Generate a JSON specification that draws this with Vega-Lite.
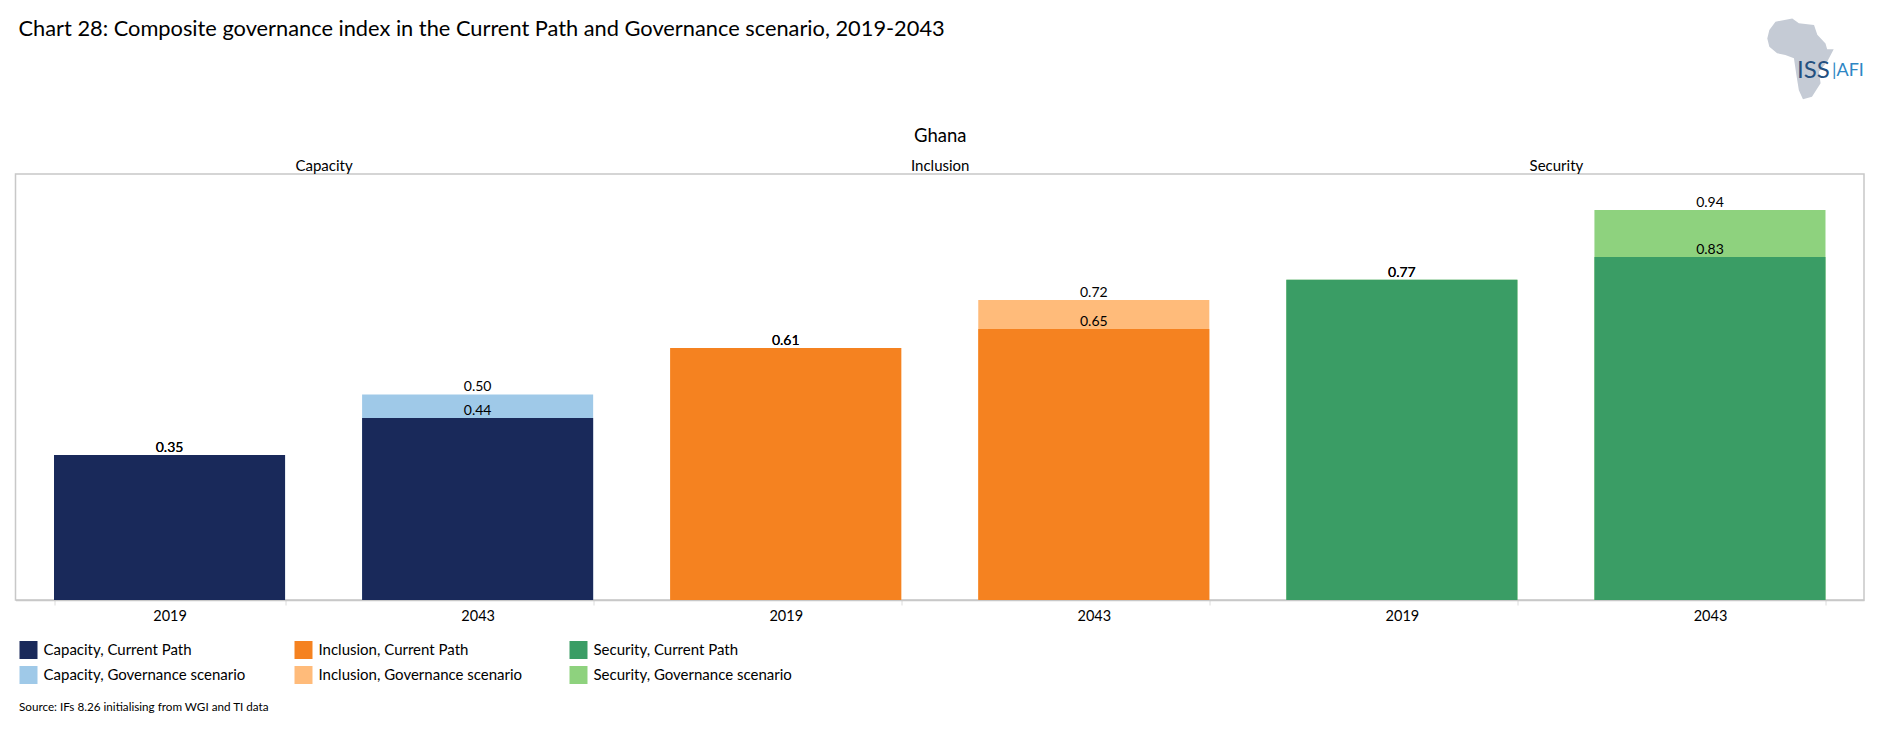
{
"$schema":"https://vega.github.io/schema/vega-lite/v6.json",
"autosize":{"type":"none"},
"padding":{"left":15.5,"top":174,"right":16,"bottom":139},
"width":1848.5,"height":426,
"background":"white",
"config":{"view":{"stroke":"#c8c8c8","strokeWidth":1.5},"font":"Lato","text":{"font":"Lato"}},
"title":{"text":"Chart 28: Composite governance index in the Current Path and Governance scenario, 2019-2043","anchor":"start","frame":"group","font":"Lato","fontSize":21.8,"fontWeight":"normal","color":"#000000","offset":-23,"dx":3},
"layer":[
{"data":{"values":[
{"bar":"Capacity 2019","group":"Capacity","year":"2019","series":"Capacity, Governance scenario","value":0.35},
{"bar":"Capacity 2043","group":"Capacity","year":"2043","series":"Capacity, Governance scenario","value":0.496},
{"bar":"Inclusion 2019","group":"Inclusion","year":"2019","series":"Inclusion, Governance scenario","value":0.608},
{"bar":"Inclusion 2043","group":"Inclusion","year":"2043","series":"Inclusion, Governance scenario","value":0.724},
{"bar":"Security 2019","group":"Security","year":"2019","series":"Security, Governance scenario","value":0.773},
{"bar":"Security 2043","group":"Security","year":"2043","series":"Security, Governance scenario","value":0.941},
{"bar":"Capacity 2019","group":"Capacity","year":"2019","series":"Capacity, Current Path","value":0.35},
{"bar":"Capacity 2043","group":"Capacity","year":"2043","series":"Capacity, Current Path","value":0.439},
{"bar":"Inclusion 2019","group":"Inclusion","year":"2019","series":"Inclusion, Current Path","value":0.608},
{"bar":"Inclusion 2043","group":"Inclusion","year":"2043","series":"Inclusion, Current Path","value":0.654},
{"bar":"Security 2019","group":"Security","year":"2019","series":"Security, Current Path","value":0.773},
{"bar":"Security 2043","group":"Security","year":"2043","series":"Security, Current Path","value":0.828}
]},
"encoding":{
"x":{"field":"bar","type":"nominal","sort":null,"scale":{"paddingInner":0.25,"paddingOuter":0.125},
"axis":{"orient":"bottom","labelAngle":0,"labelExpr":"slice(datum.label,-4)","labelFont":"Lato","labelFontSize":14.5,"labelColor":"#000000","labelPadding":4,"tickBand":"extent","tickColor":"#dcdcdc","tickSize":5,"domainColor":"#c8c8c8","domainWidth":1.5,"grid":false,
"title":"Source: IFs 8.26 initialising from WGI and TI data","titleFont":"Lato","titleFontSize":11.7,"titleFontWeight":"normal","titleColor":"#000000","titleAnchor":"start","titleAlign":"left","titleX":3,"titleY":101}},
"y":{"field":"value","type":"quantitative","stack":null,"scale":{"domain":[0,1.028],"nice":false},"axis":null}
},
"layer":[
{"mark":{"type":"bar"},
"encoding":{"color":{"field":"series","type":"nominal","scale":{"domain":["Capacity, Current Path","Capacity, Governance scenario","Inclusion, Current Path","Inclusion, Governance scenario","Security, Current Path","Security, Governance scenario"],"range":["#19295a","#9fc9e8","#f58220","#ffbb7a","#3a9d65","#8ed27e"]},
"legend":{"orient":"none","legendX":4,"legendY":467,"title":null,"columns":3,"gridAlign":"all","columnPadding":47,"rowPadding":7,"symbolType":"square","symbolSize":324,"symbolOpacity":1,"symbolStrokeWidth":0,"labelFont":"Lato","labelFontSize":15,"labelColor":"#000000","labelOffset":6,"labelLimit":400}}}},
{"mark":{"type":"text","baseline":"bottom","font":"Lato","fontSize":14,"color":"#000000","dy":0},
"encoding":{"text":{"field":"value","type":"quantitative","format":".2f"}}}
]},
{"data":{"values":[{"group":"Capacity"},{"group":"Inclusion"},{"group":"Security"}]},
"mark":{"type":"point","opacity":0},
"encoding":{"x":{"field":"group","type":"nominal","scale":{"paddingInner":0,"paddingOuter":0},
"axis":{"orient":"top","labelAngle":0,"labelFont":"Lato","labelFontSize":15,"labelColor":"#000000","labelPadding":1,"ticks":false,"domain":false,"grid":false,
"title":"Ghana","titleFont":"Lato","titleFontSize":18.5,"titleFontWeight":"normal","titleColor":"#000000","titlePadding":13}}}},
{"data":{"values":[{"logo":"ISS AFI"}]},
"mark":{"type":"point","filled":true,"color":"#c5cbd5","size":0},
"encoding":{
"x":{"field":"logo","type":"nominal","axis":{"orient":"top","zindex":1,"labels":false,"ticks":false,"domain":false,"grid":false,"title":"|AFI","titleFont":"Lato","titleFontSize":18,"titleFontWeight":"normal","titleColor":"#2e86c4","titleAnchor":"start","titleAlign":"left","titleBaseline":"middle","titleX":1816,"titleY":-104}},
"y":{"field":"logo","type":"nominal","axis":{"orient":"left","zindex":1,"labels":false,"ticks":false,"domain":false,"grid":false,"title":"ISS","titleFont":"Lato","titleFontSize":24,"titleFontWeight":"normal","titleColor":"#24507f","titleAngle":0,"titleAlign":"left","titleBaseline":"middle","titleX":1781,"titleY":-104}},
"shape":{"field":"logo","type":"nominal","scale":{"range":["M-0.81,-0.5L-0.76,-0.71L-0.61,-0.91L-0.2,-0.99L-0.04,-0.87L0.33,-0.83L0.41,-0.59L0.61,-0.38L0.65,-0.24L0.81,-0.24L0.65,0.07L0.45,0.31L0.49,0.59L0.28,0.92L0.06,0.98L-0.04,0.76L-0.1,0.39L-0.16,-0.02L-0.37,-0.1L-0.57,-0.14L-0.76,-0.3Z"]},
"legend":{"orient":"none","legendX":1744,"legendY":-156,"title":null,"labelOpacity":0,"symbolSize":6724,"symbolOpacity":1,"symbolFillColor":"#c5cbd5","symbolStrokeWidth":0,"labelFontSize":1,"labelLimit":1}}
}}
],
"resolve":{"scale":{"x":"independent","y":"independent","shape":"independent"},"axis":{"x":"independent","y":"independent"}}
}
